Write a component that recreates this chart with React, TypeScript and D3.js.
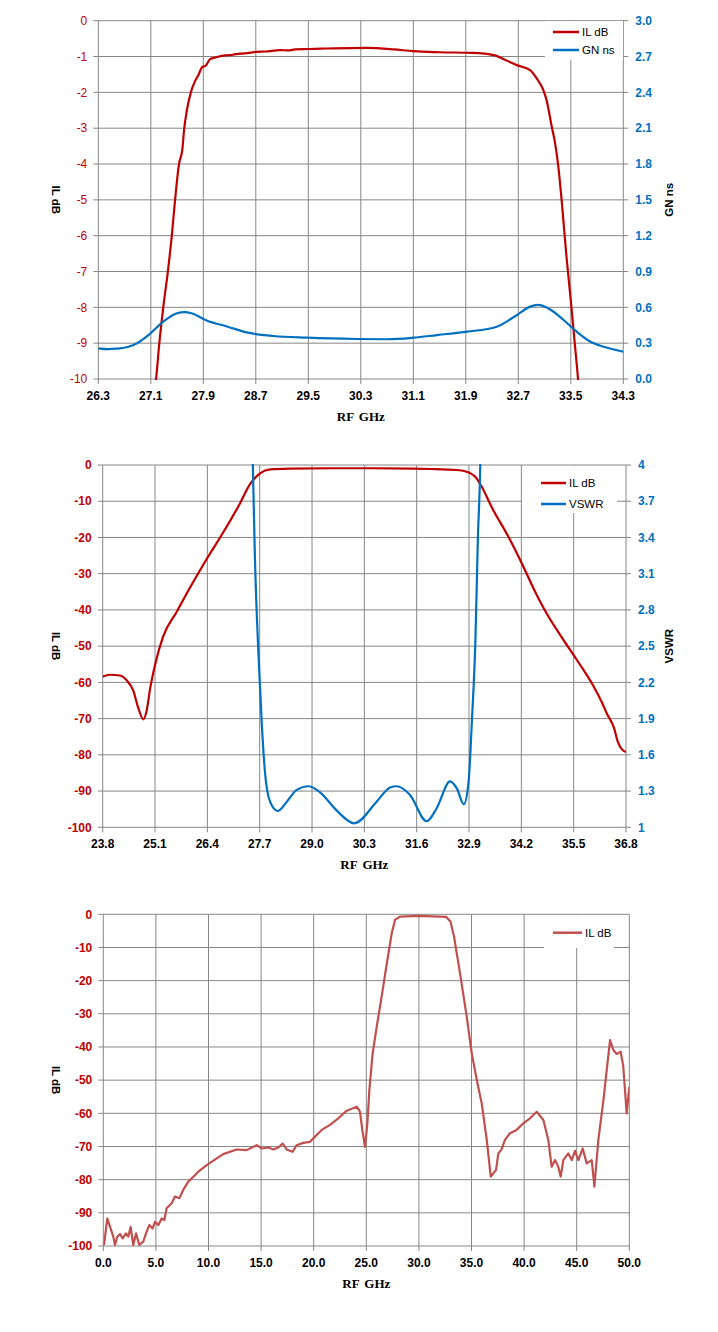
import * as d3 from "d3";

type Pt = [number, number];

// ---- panel 1: IL dB + group delay
const p1XTicks = ["26.3", "27.1", "27.9", "28.7", "29.5", "30.3", "31.1", "31.9", "32.7", "33.5", "34.3"];
const p1YTicks = [0, -1, -2, -3, -4, -5, -6, -7, -8, -9, -10];
const p1Y2Ticks = ["0.0", "0.3", "0.6", "0.9", "1.2", "1.5", "1.8", "2.1", "2.4", "2.7", "3.0"];
const p1IL: Pt[] = [
  [27.14, -10.5], [27.18, -10], [27.23, -9], [27.29, -8], [27.36, -7], [27.42, -6], [27.47, -5],
  [27.53, -4], [27.58, -3.6], [27.61, -3], [27.65, -2.5], [27.71, -2], [27.77, -1.7], [27.83, -1.5],
  [27.88, -1.3], [27.94, -1.25], [28.0, -1.08], [28.1, -1.02], [28.23, -0.97], [28.35, -0.95],
  [28.46, -0.92], [28.6, -0.9], [28.71, -0.87], [28.85, -0.86], [29.07, -0.82], [29.2, -0.83],
  [29.3, -0.8], [29.5, -0.79], [29.7, -0.78], [29.9, -0.77], [30.4, -0.76], [30.8, -0.8],
  [31.1, -0.85], [31.5, -0.88], [32.0, -0.9], [32.33, -0.96], [32.53, -1.12], [32.68, -1.24],
  [32.88, -1.38], [32.98, -1.61], [33.08, -1.93], [33.13, -2.21], [33.21, -2.96], [33.26, -3.41],
  [33.31, -4.07], [33.36, -5.0], [33.43, -6.5], [33.51, -8], [33.56, -9], [33.61, -10], [33.63, -10.5],
];
const p1GN: Pt[] = [
  [26.3, 0.257], [26.45, 0.25], [26.58, 0.254], [26.76, 0.27], [26.89, 0.3], [27.09, 0.38],
  [27.29, 0.48], [27.5, 0.55], [27.62, 0.56], [27.72, 0.55], [27.95, 0.49], [28.26, 0.44],
  [28.56, 0.39], [28.97, 0.36], [29.48, 0.346], [30.24, 0.335], [30.7, 0.333], [31.1, 0.346],
  [31.46, 0.368], [31.92, 0.396], [32.37, 0.438], [32.68, 0.536], [32.88, 0.606], [33.0, 0.62],
  [33.18, 0.584], [33.39, 0.494], [33.59, 0.396], [33.8, 0.312], [34.0, 0.27], [34.3, 0.229],
];

// ---- panel 2: IL dB + VSWR
const p2XTicks = ["23.8", "25.1", "26.4", "27.7", "29.0", "30.3", "31.6", "32.9", "34.2", "35.5", "36.8"];
const p2YTicks = [0, -10, -20, -30, -40, -50, -60, -70, -80, -90, -100];
const p2Y2Ticks = ["1", "1.3", "1.6", "1.9", "2.2", "2.5", "2.8", "3.1", "3.4", "3.7", "4"];
const p2IL: Pt[] = [
  [23.8, -58.4], [23.98, -57.9], [24.23, -58.1], [24.4, -59.5], [24.56, -62.3], [24.68, -66.9],
  [24.81, -70.2], [24.89, -67.9], [24.98, -61.6], [25.1, -55.2], [25.3, -47.4], [25.64, -40.5],
  [25.97, -33.8], [26.38, -26], [26.8, -18.5], [27.21, -10.6], [27.46, -5.3], [27.71, -2.3],
  [27.96, -1.2], [28.45, -1.0], [29.5, -0.9], [30.5, -0.9], [31.5, -1.0], [31.93, -1.1],
  [32.6, -1.38], [32.88, -2.0], [33.05, -3.2], [33.17, -5.1], [33.5, -12.4], [33.88, -19.8],
  [34.21, -27.1], [34.5, -34], [34.83, -41], [35.2, -47.5], [35.5, -52.5], [35.74, -56.5],
  [35.99, -61], [36.2, -65.5], [36.32, -68.5], [36.5, -72.5], [36.6, -76.5], [36.7, -78.5],
  [36.8, -79.2],
];
const p2VSWR: Pt[] = [
  [27.5, 4.4], [27.53, 4.0], [27.58, 3.25], [27.67, 2.43], [27.75, 1.87], [27.83, 1.46],
  [27.96, 1.21], [28.15, 1.135], [28.37, 1.21], [28.62, 1.31], [28.91, 1.34], [29.2, 1.29],
  [29.61, 1.14], [30.05, 1.033], [30.6, 1.21], [30.94, 1.33], [31.1, 1.34], [31.43, 1.27],
  [31.85, 1.05], [32.1, 1.16], [32.43, 1.38], [32.6, 1.32], [32.77, 1.19], [32.89, 1.38],
  [32.97, 1.87], [33.06, 2.56], [33.12, 3.39], [33.18, 4.0], [33.2, 4.4],
];

// ---- panel 3: wideband IL dB
const p3XTicks = ["0.0", "5.0", "10.0", "15.0", "20.0", "25.0", "30.0", "35.0", "40.0", "45.0", "50.0"];
const p3YTicks = [0, -10, -20, -30, -40, -50, -60, -70, -80, -90, -100];
const p3IL: Pt[] = [
  [0.07, -99.7], [0.38, -91.7], [0.64, -94.2], [0.95, -97.2], [1.11, -99.7], [1.33, -97.2],
  [1.59, -96.4], [1.84, -97.7], [2.16, -96.2], [2.38, -97.2], [2.6, -94.2], [2.85, -99.7],
  [3.11, -96.2], [3.42, -99.7], [3.8, -98.7], [4.06, -96.2], [4.37, -93.7], [4.69, -94.7],
  [4.91, -92.7], [5.23, -93.7], [5.55, -91.7], [5.8, -92.2], [6.02, -88.6], [6.5, -87.1],
  [6.81, -85.1], [7.23, -85.6], [7.6, -83.1], [8.08, -80.6], [8.56, -79.1], [9.03, -77.6],
  [9.83, -75.6], [10.78, -73.6], [11.4, -72.3], [12.68, -70.9], [13.63, -71.1], [14.58, -69.6],
  [15.06, -70.6], [15.69, -70.3], [16.16, -70.9], [16.64, -70.3], [17.05, -69.1], [17.43, -70.9],
  [18.0, -71.6], [18.38, -69.6], [19.0, -68.9], [19.65, -68.6], [20.1, -67.1], [20.76, -65.0],
  [21.55, -63.5], [22.34, -61.5], [23.14, -59.2], [24.09, -58.0], [24.4, -59.5], [24.62, -65],
  [24.88, -70.1], [25.1, -63], [25.29, -53], [25.6, -42], [25.99, -33.9], [26.5, -24],
  [26.9, -15.8], [27.42, -5.7], [27.73, -1.7], [28.2, -0.7], [30, -0.5], [32.6, -0.8], [33.0, -2.2],
  [33.34, -6.7], [33.91, -17.8], [34.55, -30.9], [35.02, -41.9], [35.5, -49.9], [35.97, -57],
  [36.45, -68], [36.83, -79.1], [37.07, -78.1], [37.33, -77.1], [37.55, -72.1], [37.87, -70.8],
  [38.18, -68], [38.66, -66], [39.29, -65], [39.93, -63], [40.56, -61.5], [41.2, -59.5],
  [41.83, -62], [42.3, -68], [42.62, -76.1], [42.94, -74.1], [43.25, -76.1], [43.48, -79.1],
  [43.73, -74.1], [44.2, -72.1], [44.53, -74.1], [44.84, -71.3], [45.16, -74.1], [45.57, -70.6],
  [45.95, -75.1], [46.43, -74.1], [46.68, -82.1], [47.06, -68], [47.54, -56], [48.17, -37.9],
  [48.48, -40.9], [48.8, -42.1], [49.18, -41.4], [49.43, -45.9], [49.75, -60], [50, -52],
];

const GRID = "#868686";
const RED = "#C00000";
const BLUE = "#0070C0";
const SANS = "'Liberation Sans', Arial, sans-serif";
const SERIF = "'Liberation Serif', 'Times New Roman', serif";

interface Series {
  name: string;
  data: Pt[];
  color: string;
  right?: boolean;
  smooth?: boolean;
}

interface PanelProps {
  id: string;
  box: { left: number; right: number; top: number; bottom: number };
  xTicks: string[];
  yTicks: number[];
  yColor: string;
  yBold: boolean;
  y2Ticks?: string[];
  y2Title?: string;
  series: Series[];
  legend: { x: number; y: number; w: number; h: number; lineX: number; lineW: number; rows: number[] };
}

function Panel({ id, box, xTicks, yTicks, yColor, yBold, y2Ticks, y2Title, series, legend }: PanelProps) {
  const { left, right, top, bottom } = box;
  const xVals = xTicks.map(Number);
  const x = d3.scaleLinear().domain([xVals[0], xVals[xVals.length - 1]]).range([left, right]);
  const y = d3.scaleLinear().domain(d3.extent(yTicks) as [number, number]).range([bottom, top]);
  const y2Vals = (y2Ticks ?? []).map(Number);
  const y2 = d3
    .scaleLinear()
    .domain(y2Ticks ? [y2Vals[0], y2Vals[y2Vals.length - 1]] : [0, 1])
    .range([bottom, top]);
  const midY = (top + bottom) / 2;
  const tickR = y2Ticks ? 5 : 0;

  return (
    <g>
      <defs>
        <clipPath id={id}>
          <rect x={left} y={top - 1} width={right - left} height={bottom - top + 2} />
        </clipPath>
      </defs>
      {/* grid + ticks */}
      {yTicks.map((t) => (
        <line key={"h" + t} x1={left - 5} x2={right + tickR} y1={y(t)} y2={y(t)} stroke={GRID} strokeWidth={1} />
      ))}
      {xVals.map((t, i) => (
        <line key={"v" + i} x1={x(t)} x2={x(t)} y1={top} y2={bottom + 5} stroke={GRID} strokeWidth={1} />
      ))}
      {/* left labels */}
      {yTicks.map((t) => (
        <text
          key={"yl" + t}
          x={left - 11}
          y={y(t)}
          dy="0.35em"
          textAnchor="end"
          fill={yColor}
          fontFamily={SANS}
          fontSize={12}
          fontWeight={yBold ? "bold" : "normal"}
        >
          {t}
        </text>
      ))}
      {/* right labels */}
      {y2Ticks?.map((t, i) => (
        <text
          key={"yr" + i}
          x={right + 12}
          y={y2(y2Vals[i])}
          dy="0.35em"
          fill={BLUE}
          fontFamily={SANS}
          fontSize={12}
          fontWeight="bold"
        >
          {t}
        </text>
      ))}
      {/* bottom labels */}
      {xTicks.map((t, i) => (
        <text
          key={"xl" + i}
          x={x(xVals[i])}
          y={bottom + 21}
          textAnchor="middle"
          fill="#000"
          fontFamily={SANS}
          fontSize={12}
          fontWeight="bold"
        >
          {t}
        </text>
      ))}
      {/* titles */}
      <text
        transform={`translate(56,${midY}) rotate(90)`}
        textAnchor="middle"
        dy="0.35em"
        fontFamily={SANS}
        fontSize={11.5}
        fontWeight="bold"
      >
        IL dB
      </text>
      {y2Title && (
        <text
          transform={`translate(669,${midY}) rotate(-90)`}
          textAnchor="middle"
          dy="0.35em"
          fontFamily={SANS}
          fontSize={11.5}
          fontWeight="bold"
        >
          {y2Title}
        </text>
      )}
      <text
        x={(left + right) / 2}
        y={bottom + 42}
        textAnchor="middle"
        fontFamily={SERIF}
        fontSize={13}
        fontWeight="bold"
        wordSpacing={2}
      >
        RF GHz
      </text>
      {/* curves */}
      <g clipPath={`url(#${id})`}>
        {series.map((s) => {
          const ys = s.right ? y2 : y;
          const line = d3
            .line<Pt>()
            .x((d) => x(d[0]))
            .y((d) => ys(d[1]))
            .curve(s.smooth ? d3.curveMonotoneX : d3.curveLinear);
          return (
            <path
              key={s.name}
              d={line(s.data) ?? ""}
              fill="none"
              stroke={s.color}
              strokeWidth={2.2}
              strokeLinejoin="round"
            />
          );
        })}
      </g>
      {/* legend */}
      <rect x={legend.x} y={legend.y} width={legend.w} height={legend.h} fill="#fff" />
      {series.map((s, i) => (
        <g key={"lg" + s.name}>
          <line
            x1={legend.lineX}
            x2={legend.lineX + legend.lineW}
            y1={legend.rows[i]}
            y2={legend.rows[i]}
            stroke={s.color}
            strokeWidth={2.5}
          />
          <text
            x={legend.lineX + legend.lineW + 3}
            y={legend.rows[i]}
            dy="0.35em"
            fontFamily={SANS}
            fontSize={11.5}
            fill="#000"
          >
            {s.name}
          </text>
        </g>
      ))}
    </g>
  );
}

export default function App() {
  return (
    <svg
      width={718}
      height={1332}
      viewBox="0 0 718 1332"
      style={{ position: "absolute", left: 0, top: 0, background: "#fff" }}
    >
      <rect width={718} height={1332} fill="#fff" />
      <Panel
        id="c1"
        box={{ left: 98.3, right: 623.3, top: 20.7, bottom: 379 }}
        xTicks={p1XTicks}
        yTicks={p1YTicks}
        yColor={RED}
        yBold={false}
        y2Ticks={p1Y2Ticks}
        y2Title="GN ns"
        series={[
          { name: "IL dB", data: p1IL, color: RED, smooth: true },
          { name: "GN ns", data: p1GN, color: BLUE, right: true, smooth: true },
        ]}
        legend={{ x: 545, y: 21, w: 78, h: 39, lineX: 553, lineW: 26, rows: [32, 50] }}
      />
      <Panel
        id="c2"
        box={{ left: 102.7, right: 626, top: 465, bottom: 827.3 }}
        xTicks={p2XTicks}
        yTicks={p2YTicks}
        yColor={RED}
        yBold={true}
        y2Ticks={p2Y2Ticks}
        y2Title="VSWR"
        series={[
          { name: "IL dB", data: p2IL, color: RED, smooth: true },
          { name: "VSWR", data: p2VSWR, color: BLUE, right: true, smooth: true },
        ]}
        legend={{ x: 522, y: 466, w: 95, h: 47, lineX: 541, lineW: 25, rows: [483, 504] }}
      />
      <Panel
        id="c3"
        box={{ left: 103.3, right: 629.3, top: 914.3, bottom: 1246 }}
        xTicks={p3XTicks}
        yTicks={p3YTicks}
        yColor={RED}
        yBold={true}
        series={[{ name: "IL dB", data: p3IL, color: "#C0504D" }]}
        legend={{ x: 544, y: 915, w: 70, h: 33, lineX: 553, lineW: 29, rows: [932.7] }}
      />
    </svg>
  );
}
